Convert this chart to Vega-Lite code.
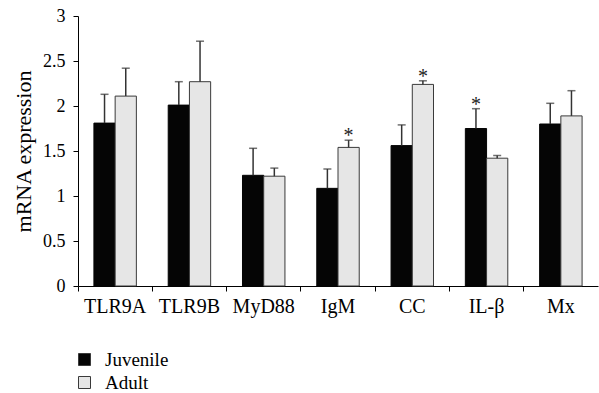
{
  "$schema": "https://vega.github.io/schema/vega-lite/v6.json",
  "width": 520,
  "height": 270,
  "autosize": "none",
  "padding": {"left": 78, "top": 16, "right": 1, "bottom": 107},
  "background": "white",
  "config": {
    "view": {"stroke": null},
    "font": "Liberation Serif",
    "axis": {"domainColor": "#000", "tickColor": "#000", "labelColor": "#000", "titleColor": "#000", "grid": false, "labelFont": "Liberation Serif", "titleFont": "Liberation Serif", "titleFontWeight": "normal", "labelFontWeight": "normal"},
    "legend": {"labelFont": "Liberation Serif", "labelFontWeight": "normal", "labelColor": "#000"}
  },
  "data": {
    "values": [
      {"gene": "TLR9A", "group": "Juvenile", "value": 1.81, "err": 2.13, "sig": false},
      {"gene": "TLR9A", "group": "Adult", "value": 2.11, "err": 2.42, "sig": false},
      {"gene": "TLR9B", "group": "Juvenile", "value": 2.01, "err": 2.27, "sig": false},
      {"gene": "TLR9B", "group": "Adult", "value": 2.27, "err": 2.72, "sig": false},
      {"gene": "MyD88", "group": "Juvenile", "value": 1.23, "err": 1.53, "sig": false},
      {"gene": "MyD88", "group": "Adult", "value": 1.22, "err": 1.31, "sig": false},
      {"gene": "IgM", "group": "Juvenile", "value": 1.085, "err": 1.3, "sig": false},
      {"gene": "IgM", "group": "Adult", "value": 1.54, "err": 1.62, "sig": true},
      {"gene": "CC", "group": "Juvenile", "value": 1.56, "err": 1.79, "sig": false},
      {"gene": "CC", "group": "Adult", "value": 2.24, "err": 2.28, "sig": true},
      {"gene": "IL-β", "group": "Juvenile", "value": 1.75, "err": 1.97, "sig": true},
      {"gene": "IL-β", "group": "Adult", "value": 1.42, "err": 1.45, "sig": false},
      {"gene": "Mx", "group": "Juvenile", "value": 1.8, "err": 2.03, "sig": false},
      {"gene": "Mx", "group": "Adult", "value": 1.89, "err": 2.17, "sig": false}
    ]
  },
  "encoding": {
    "x": {
      "field": "gene",
      "type": "nominal",
      "sort": ["TLR9A", "TLR9B", "MyD88", "IgM", "CC", "IL-β", "Mx"],
      "scale": {"paddingInner": 0, "paddingOuter": 0},
      "axis": {"title": null, "labelAngle": 0, "bandPosition": 0, "tickSize": 5, "labelFontSize": 20, "labelPadding": 5, "domainWidth": 1, "tickWidth": 1}
    },
    "xOffset": {
      "field": "group",
      "type": "nominal",
      "sort": ["Juvenile", "Adult"],
      "scale": {"paddingInner": 0, "paddingOuter": 0.75}
    }
  },
  "layer": [
    {
      "mark": {"type": "bar", "strokeWidth": 1},
      "encoding": {
        "y": {
          "field": "value",
          "type": "quantitative",
          "scale": {"domain": [0, 3]},
          "axis": {"title": "mRNA expression", "values": [0, 0.5, 1, 1.5, 2, 2.5, 3], "labelExpr": "'' + datum.value", "tickSize": 5, "labelFontSize": 18, "labelPadding": 8, "titleFontSize": 22, "titlePadding": 7, "domainWidth": 1, "tickWidth": 1}
        },
        "fill": {
          "field": "group",
          "type": "nominal",
          "sort": ["Juvenile", "Adult"],
          "scale": {"range": ["#050505", "#e6e6e6"]},
          "legend": {
            "title": null, "orient": "none", "legendX": -3, "legendY": 334,
            "symbolType": "square", "symbolSize": 144, "labelFontSize": 19,
            "rowPadding": 3, "labelOffset": 11, "padding": 0, "symbolStrokeWidth": 1,
            "encode": {"symbols": {"update": {"stroke": {"value": "#3a3a3a"}, "strokeWidth": {"value": 1}}}}
          }
        },
        "stroke": {
          "field": "group",
          "type": "nominal",
          "sort": ["Juvenile", "Adult"],
          "scale": {"range": ["#050505", "#3a3a3a"]},
          "legend": null
        }
      }
    },
    {
      "mark": {"type": "rule", "color": "#333", "strokeWidth": 1.5},
      "encoding": {
        "y": {"field": "value", "type": "quantitative"},
        "y2": {"field": "err"}
      }
    },
    {
      "mark": {"type": "tick", "color": "#333", "thickness": 1.5, "size": 8, "orient": "horizontal"},
      "encoding": {
        "y": {"field": "err", "type": "quantitative"}
      }
    },
    {
      "transform": [{"filter": "datum.sig"}],
      "mark": {"type": "text", "text": "*", "fontSize": 20, "baseline": "alphabetic", "dy": 2, "color": "#222", "font": "Liberation Serif"},
      "encoding": {
        "y": {"field": "err", "type": "quantitative"}
      }
    }
  ]
}
